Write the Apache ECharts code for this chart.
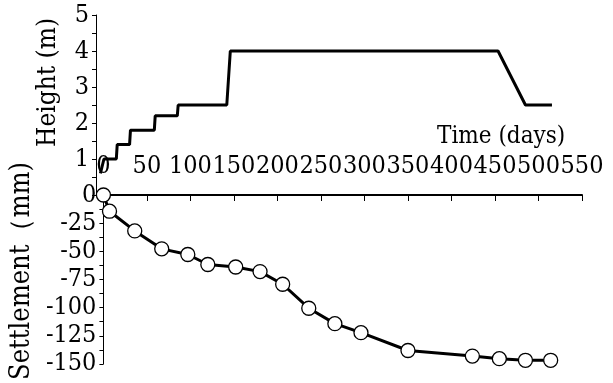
<!DOCTYPE html>
<html>
<head>
<meta charset="utf-8">
<script src="https://cdn.jsdelivr.net/npm/echarts@6/dist/echarts.min.js"></script>
<style>
html,body{margin:0;padding:0;background:#fff;}
#c{width:613px;height:383px;}
</style>
</head>
<body>
<div id="c"></div>
<script>
// Construction height history
const heightDays   = [5, 9, 23, 24, 38, 39, 66, 67, 92, 93, 148, 152, 455, 486, 516];
const heightValues = [0.6, 1.0, 1.0, 1.4, 1.4, 1.8, 1.8, 2.2, 2.2, 2.5, 2.5, 4.0, 4.0, 2.5, 2.5];

// Measured settlement
const settleDays   = [0, 7, 36, 67, 97, 120, 152, 180, 206, 236, 266, 296, 350, 424, 455, 485, 514];
const settleValues = [0, -14.4, -31.9, -47.8, -52.8, -61.7, -63.9, -68, -79.2, -100.5, -114.2, -122.2, -138, -143, -145.3, -146.7, -146.7];

const xTicks = [0, 50, 100, 150, 200, 250, 300, 350, 400, 450, 500, 550];

const FONT = '"DejaVu Serif Condensed", "DejaVu Serif", serif';
const chart = echarts.init(document.getElementById('c'), null, {renderer: 'canvas'});

const heightData = heightDays.map((d, i) => [d, heightValues[i]]);
const settleData = settleDays.map((d, i) => [d, settleValues[i]]);

chart.setOption({
  animation: false,
  backgroundColor: '#fff',
  textStyle: {fontFamily: FONT},
  title: {
    text: 'Time (days)',
    left: 437,
    top: 125,
    padding: 0,
    textStyle: {fontFamily: FONT, fontSize: 24, fontWeight: 'normal', color: '#000'}
  },
  grid: [
    {left: 96, top: 15, width: 486, height: 180},
    {left: 96, top: 195, width: 486, height: 179}
  ],
  xAxis: [
    {gridIndex: 0, type: 'value', min: xTicks[0], max: xTicks[xTicks.length - 1], interval: 50, show: false},
    {
      gridIndex: 1, type: 'value', position: 'top',
      min: xTicks[0], max: xTicks[xTicks.length - 1], interval: 50,
      axisLine: {show: true, onZero: false, lineStyle: {color: '#000', width: 2}},
      axisTick: {show: true, inside: true, length: 6, lineStyle: {color: '#000', width: 1}},
      axisLabel: {show: true, margin: 16, fontFamily: FONT, fontSize: 25, color: '#000', hideOverlap: false, showMinLabel: true, showMaxLabel: true},
      splitLine: {show: false}
    }
  ],
  yAxis: [
    {
      gridIndex: 0, type: 'value', min: 0, max: 5, interval: 1,
      name: 'Height (m)', nameLocation: 'middle', nameGap: 35,
      nameTextStyle: {fontFamily: FONT, fontSize: 26, color: '#000', padding: [0, 0, 0, 45]},
      axisLine: {show: true, onZero: false, lineStyle: {color: '#000', width: 1}},
      axisTick: {show: true, inside: false, length: 4, lineStyle: {color: '#000'}},
      minorTick: {show: true, splitNumber: 2, length: 4, lineStyle: {color: '#000'}},
      axisLabel: {margin: 7, fontFamily: FONT, fontSize: 25, color: '#000', showMinLabel: false},
      splitLine: {show: false}
    },
    {
      gridIndex: 1, type: 'value', min: -150, max: 0, interval: 25,
      name: 'Settlement（mm)', nameLocation: 'middle', nameGap: 50,
      nameTextStyle: {fontFamily: FONT, fontSize: 27, color: '#000', padding: [0, 0, 0, 17]},
      axisLine: {show: true, onZero: false, lineStyle: {color: '#000', width: 1}},
      axisTick: {show: true, inside: false, length: 4, lineStyle: {color: '#000'}},
      minorTick: {show: true, splitNumber: 2, length: 4, lineStyle: {color: '#000'}},
      axisLabel: {margin: 7, fontFamily: FONT, fontSize: 25, color: '#000'},
      splitLine: {show: false}
    }
  ],
  series: [
    {
      type: 'line', xAxisIndex: 0, yAxisIndex: 0, data: heightData,
      showSymbol: false, symbol: 'none',
      lineStyle: {color: '#000', width: 3}
    },
    {
      type: 'line', xAxisIndex: 1, yAxisIndex: 1, data: settleData,
      symbol: 'circle', symbolSize: 14, showAllSymbol: true,
      itemStyle: {color: '#fff', borderColor: '#000', borderWidth: 1.3},
      lineStyle: {color: '#000', width: 3}
    }
  ]
});
</script>
</body>
</html>
